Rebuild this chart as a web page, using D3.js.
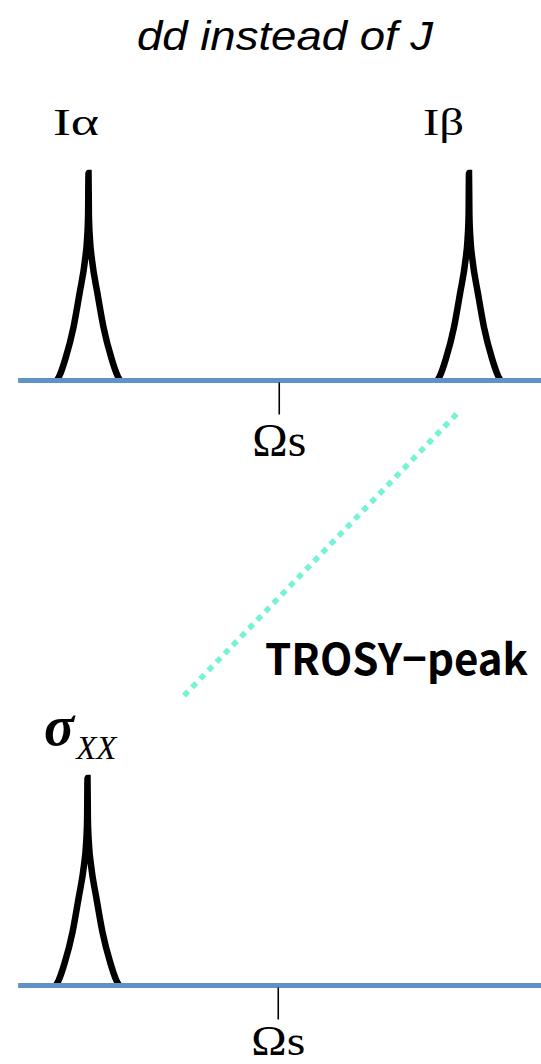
<!DOCTYPE html>
<html>
<head>
<meta charset="utf-8">
<script src="https://cdn.jsdelivr.net/npm/d3@7"></script>
<style>
  html, body { margin: 0; padding: 0; background: #ffffff; }
  svg { display: block; }
</style>
</head>
<body>
<script>
// ---- data ----------------------------------------------------------------
// chemical shift offsets (Hz) relative to the reference frequency Ωs
const coupledShifts = [-100, 100];          // doublet components
const coupledLabels = ["Iα", "Iβ"];
const decoupledShifts = [-100];             // single relaxation-filtered line
const referenceShift = [0];
const referenceLabel = "Ωs";
const spectrumExtent = [-137, 145];         // frequency window drawn

// line shape of one peak: offset from line centre (Hz) vs. relative intensity
const shapeOffsets = [-16.6, -15.2, -12.1, -7.9, -4.7, -1.84, -0.79, -0.21, 0,
                      0.21, 0.79, 1.84, 4.7, 7.9, 12.1, 15.2, 16.6];
const shapeHeights = [0, 0.024, 0.106, 0.256, 0.42, 0.58, 0.676, 0.797, 1,
                      0.797, 0.676, 0.58, 0.42, 0.256, 0.106, 0.024, 0];

// TROSY correlation: from the Iβ component down to the selected line
const trosyLinkShifts = [93.5, -51.5];

// ---- layout ----------------------------------------------------------------
const W = 541, H = 1064;
const svg = d3.select("body").append("svg")
  .attr("width", W).attr("height", H);

const x = d3.scaleLinear().domain([-100, 100]).range([88.5, 469]);
const peakHeight = 207.5;
const serif = "'Liberation Serif', 'Times New Roman', serif";

const panels = [
  { base: 380.5, shifts: coupledShifts, dx: 0, labelGap: 9, fs: 46 },
  { base: 985.5, shifts: decoupledShifts, dx: -1, labelGap: 5, fs: 43 }
];

const shape = shapeOffsets.map((d, i) => ({ off: d, h: shapeHeights[i] }));

panels.forEach(p => {
  const y = d3.scaleLinear().domain([0, 1]).range([p.base, p.base - peakHeight]);
  const g = svg.append("g").attr("transform", `translate(${p.dx},0)`);

  const line = d3.line()
    .x(d => x(d.c + d.off))
    .y(d => y(d.h))
    .curve(d3.curveMonotoneX);

  g.selectAll("path.peak")
    .data(p.shifts)
    .join("path")
    .attr("class", "peak")
    .attr("d", c => line(shape.map(s => ({ c, off: s.off, h: s.h }))))
    .attr("fill", "none")
    .attr("stroke", "#000")
    .attr("stroke-width", 6.5)
    .attr("stroke-linejoin", "miter")
    .attr("stroke-miterlimit", 4);

  // baseline
  g.append("line")
    .attr("x1", x(spectrumExtent[0]) - p.dx).attr("x2", x(spectrumExtent[1]) - p.dx)
    .attr("y1", y(0)).attr("y2", y(0))
    .attr("stroke", "#5f93c8")
    .attr("stroke-width", 5);

  // reference frequency tick
  const axis = d3.axisBottom(x)
    .tickValues(referenceShift)
    .tickSize(32)
    .tickPadding(p.labelGap)
    .tickFormat(() => referenceLabel);
  const ag = g.append("g")
    .attr("transform", `translate(0,${p.base + 2})`)
    .call(axis);
  ag.select(".domain").remove();
  ag.selectAll(".tick line")
    .attr("stroke", "#000").attr("stroke-width", 1.6);
  ag.selectAll(".tick text")
    .attr("fill", "#000")
    .attr("font-family", serif)
    .attr("font-size", p.fs)
    .attr("dy", "0.71em")
    .attr("textLength", 54)
    .attr("lengthAdjust", "spacingAndGlyphs");
});

// title
svg.append("text")
  .attr("x", 285).attr("y", 50)
  .attr("text-anchor", "middle")
  .attr("font-family", "'Liberation Sans', Arial, sans-serif")
  .attr("font-style", "italic")
  .attr("font-size", 40)
  .attr("textLength", 296)
  .attr("lengthAdjust", "spacingAndGlyphs")
  .text("dd instead of J");

// doublet labels
const labelDx = [-35.5, -46];
const labelLen = [46, 41];
svg.selectAll("text.peaklabel")
  .data(coupledLabels)
  .join("text")
  .attr("class", "peaklabel")
  .attr("x", (d, i) => x(coupledShifts[i]) + labelDx[i])
  .attr("y", 135)
  .attr("font-family", serif)
  .attr("font-size", 38)
  .attr("textLength", (d, i) => labelLen[i])
  .attr("lengthAdjust", "spacingAndGlyphs")
  .text(d => d);

// sigma_XX label
const sig = svg.append("text")
  .attr("x", 44).attr("y", 745)
  .attr("font-family", serif)
  .attr("font-style", "italic");
sig.append("tspan").attr("font-size", 56).attr("font-weight", 700).text("σ");
sig.append("tspan").attr("font-size", 33).attr("dy", 14).attr("dx", 2).text("XX");

// TROSY connection
const y0 = 414, y1 = 699;
svg.append("line")
  .attr("x1", x(trosyLinkShifts[0])).attr("y1", y0)
  .attr("x2", x(trosyLinkShifts[1])).attr("y2", y1)
  .attr("stroke", "#76f2d4")
  .attr("stroke-width", 5.5)
  .attr("stroke-dasharray", "6 5.7");

svg.append("text")
  .attr("x", 265).attr("y", 675)
  .attr("font-family", "'Noto Sans CJK JP', 'Noto Sans', sans-serif")
  .attr("font-weight", 700)
  .attr("font-size", 43)
  .attr("textLength", 263)
  .attr("lengthAdjust", "spacingAndGlyphs")
  .text("TROSY−peak");
</script>
</body>
</html>
